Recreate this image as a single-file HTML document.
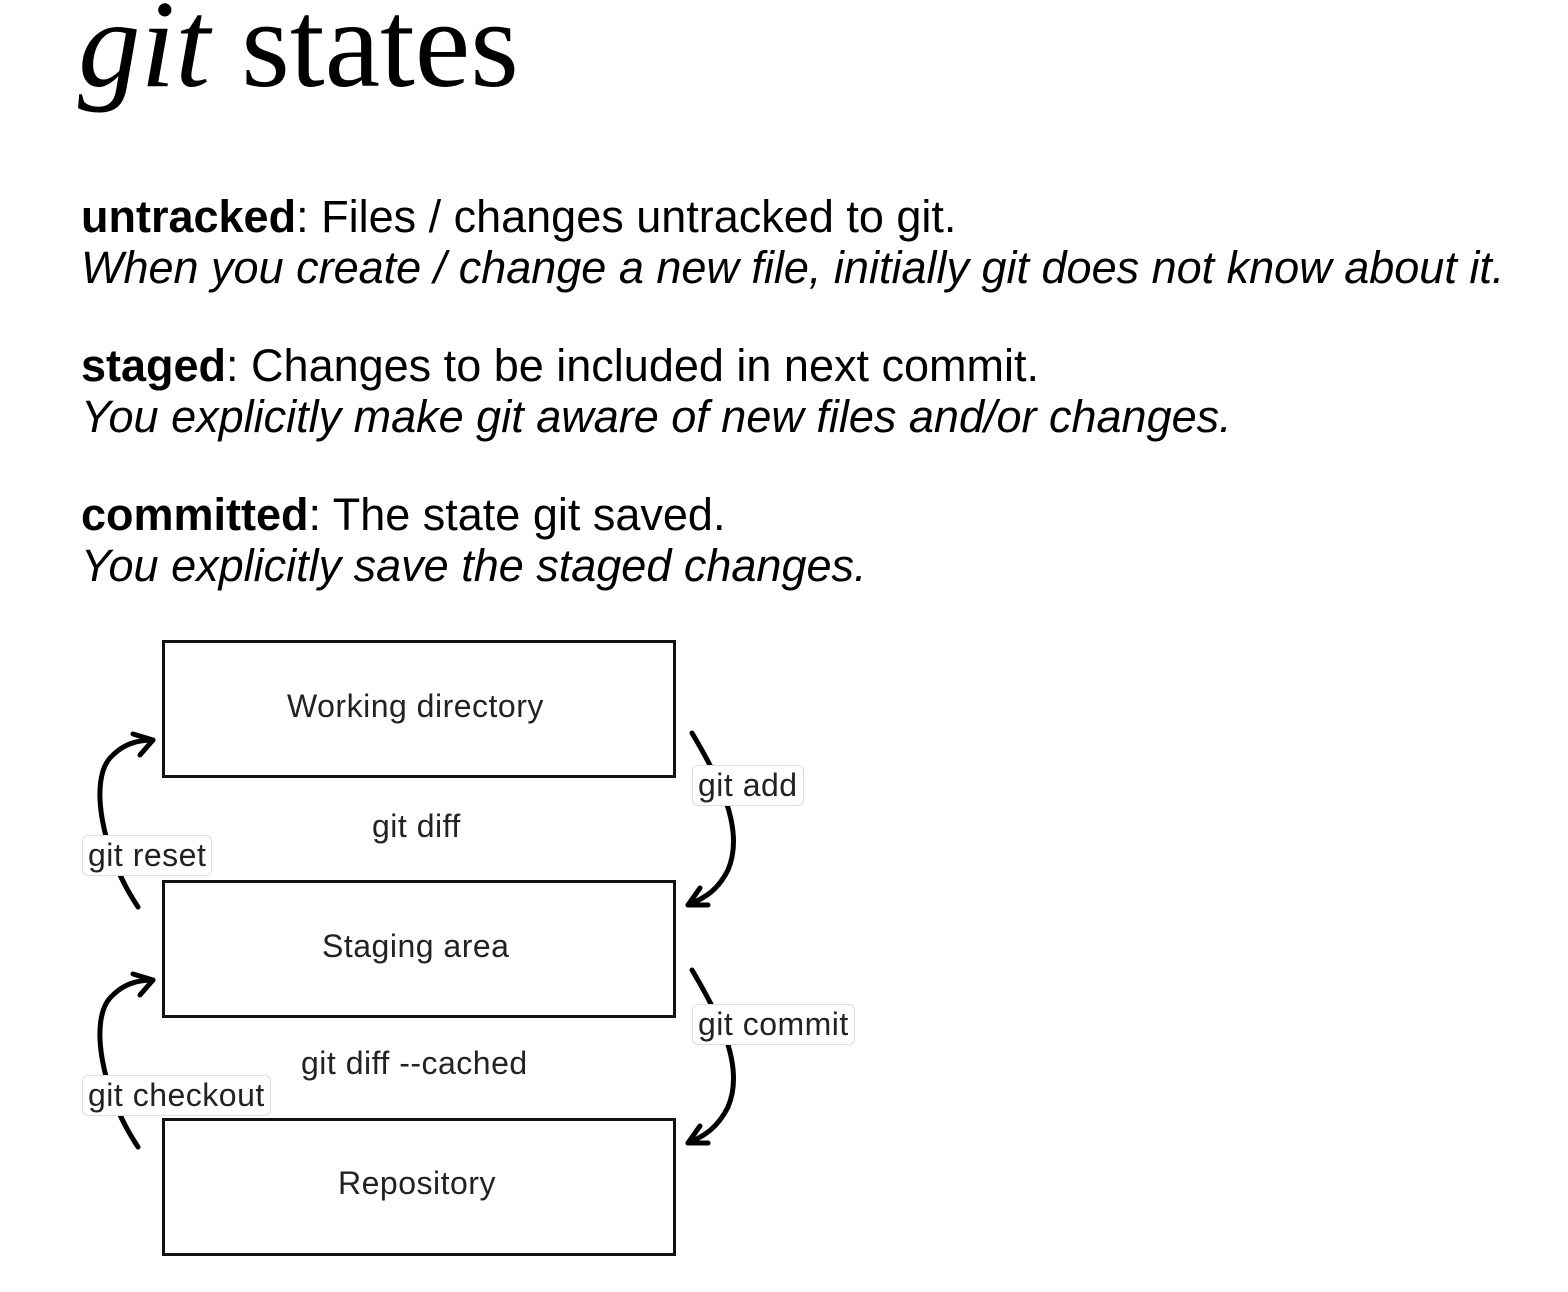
<!DOCTYPE html>
<html><head><meta charset="utf-8"><style>
body{margin:0;width:1568px;height:1292px;background:#fff;position:relative;overflow:hidden;font-family:"Liberation Sans",sans-serif;color:#000}
.t{position:absolute;left:78px;top:-26px;font-family:"Liberation Serif",serif;font-size:125px;white-space:nowrap}
.p{position:absolute;left:81px;font-size:45px;white-space:nowrap;line-height:51px}
.box{position:absolute;left:162px;width:508px;height:132px;border:3px solid #111;box-sizing:content-box}
.lbl{position:absolute;font-size:32px;white-space:nowrap;color:#222;letter-spacing:0.5px}
.tag{position:absolute;font-size:32px;white-space:nowrap;color:#222;background:#fff;border:1.5px solid #ddd;border-radius:6px;padding:0 5px;line-height:39px;letter-spacing:0.5px}
</style></head><body>
<div class="t"><i>git</i> states</div>
<div class="p" style="top:191px"><b>untracked</b>: Files / changes untracked to git.<br><i>When you create / change a new file, initially git does not know about it.</i></div>
<div class="p" style="top:340px"><b>staged</b>: Changes to be included in next commit.<br><i>You explicitly make git aware of new files and/or changes.</i></div>
<div class="p" style="top:489px"><b>committed</b>: The state git saved.<br><i>You explicitly save the staged changes.</i></div>

<div class="box" style="top:640px"></div>
<div class="box" style="top:880px"></div>
<div class="box" style="top:1118px"></div>
<div class="lbl" style="left:287px;top:688px">Working directory</div>
<div class="lbl" style="left:322px;top:928px">Staging area</div>
<div class="lbl" style="left:338px;top:1165px">Repository</div>
<div class="lbl" style="left:372px;top:808px">git diff</div>
<div class="lbl" style="left:301px;top:1045px">git diff --cached</div>

<svg width="1568" height="1292" style="position:absolute;left:0;top:0" fill="none" stroke="#000" stroke-width="5" stroke-linecap="round">
<path d="M692 733 C720 780 745 830 728 870 C718 890 705 898 688 905"/>
<path d="M688 905 L700 888 M688 905 L708 905"/>
<path d="M692 970 C720 1017 745 1067 728 1107 C718 1127 705 1136 688 1143"/>
<path d="M688 1143 L700 1126 M688 1143 L708 1143"/>
<path d="M138 907 C100 850 90 780 110 758 C122 745 135 740 153 740"/>
<path d="M153 740 L133 734 M153 740 L140 755"/>
<path d="M138 1147 C100 1090 90 1020 110 998 C122 985 135 980 153 980"/>
<path d="M153 980 L133 974 M153 980 L140 995"/>
</svg>
<div class="tag" style="left:692px;top:765px">git add</div>
<div class="tag" style="left:82px;top:835px">git reset</div>
<div class="tag" style="left:692px;top:1004px">git commit</div>
<div class="tag" style="left:82px;top:1075px">git checkout</div>
</body></html>
